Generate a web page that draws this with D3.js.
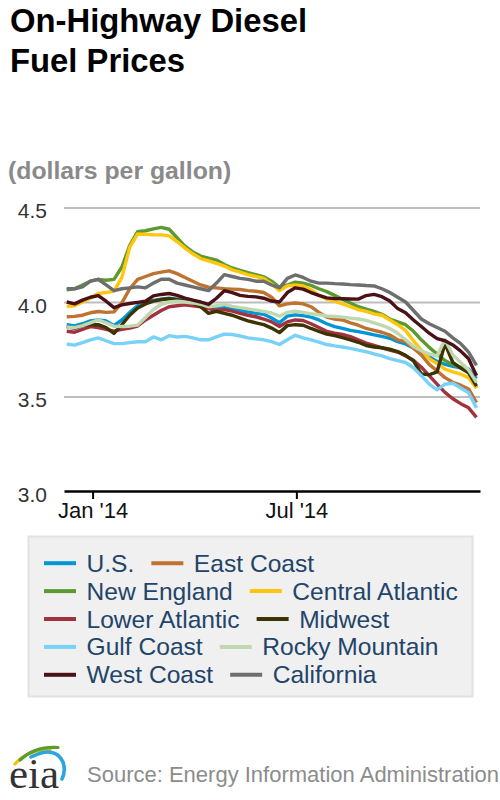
<!DOCTYPE html>
<html><head><meta charset="utf-8">
<script src="https://cdn.jsdelivr.net/npm/d3@7"></script>
<style>body{margin:0;background:#fff} svg{display:block}</style>
</head><body>
<svg id="chart" width="500" height="800"></svg>
<script>
// ---------- DATA ----------
const seriesNames = ["U.S.","East Coast","New England","Central Atlantic","Lower Atlantic","Midwest","Gulf Coast","Rocky Mountain","West Coast","California"];
const seriesColors = ["#0096d6","#bf7330","#5c9a31","#ffc60b","#a2323f","#3d3300","#78d2f8","#bfd8b0","#4a1217","#6e6e6e"];

const usPrices = [3.880,3.874,3.885,3.900,3.905,3.900,3.875,3.905,3.945,3.980, 3.998,4.008,4.015,4.020,4.015,4.005,4.000,3.995,3.980,3.970, 3.970,3.962,3.955,3.948,3.940,3.935,3.915,3.890,3.925,3.932, 3.928,3.920,3.905,3.885,3.870,3.860,3.850,3.843,3.835,3.826, 3.818,3.808,3.790,3.778,3.757,3.735,3.710,3.685,3.670,3.660, 3.652,3.645,3.595];
const eastCoastPrices = [3.922,3.924,3.930,3.943,3.950,3.945,3.948,3.995,4.070,4.120, 4.135,4.150,4.158,4.165,4.150,4.130,4.110,4.090,4.078,4.075, 4.070,4.068,4.066,4.060,4.057,4.050,4.025,3.980,3.990,3.995, 3.990,3.975,3.945,3.920,3.910,3.905,3.890,3.877,3.860,3.850, 3.840,3.825,3.800,3.790,3.755,3.720,3.670,3.635,3.600,3.575, 3.560,3.540,3.468];
const newEnglandPrices = [4.065,4.070,4.090,4.110,4.120,4.115,4.120,4.185,4.300,4.372, 4.377,4.387,4.395,4.385,4.340,4.295,4.265,4.243,4.232,4.222, 4.198,4.180,4.167,4.155,4.145,4.133,4.110,4.078,4.090,4.105, 4.100,4.088,4.070,4.055,4.035,4.015,3.995,3.975,3.962,3.950, 3.935,3.910,3.895,3.880,3.845,3.800,3.760,3.725,3.690,3.668, 3.655,3.630,3.545];
const centralAtlanticPrices = [3.977,3.980,4.000,4.020,4.045,4.050,4.058,4.130,4.290,4.360, 4.358,4.356,4.355,4.350,4.320,4.285,4.255,4.230,4.218,4.205, 4.190,4.170,4.158,4.145,4.135,4.125,4.095,4.060,4.085,4.090, 4.085,4.065,4.035,4.015,4.005,3.990,3.975,3.960,3.950,3.937, 3.930,3.905,3.880,3.850,3.795,3.745,3.700,3.675,3.645,3.630, 3.618,3.600,3.545];
const lowerAtlanticPrices = [3.845,3.840,3.855,3.870,3.865,3.855,3.846,3.855,3.862,3.873, 3.905,3.930,3.955,3.975,3.980,3.985,3.980,3.975,3.965,3.955, 3.960,3.952,3.940,3.930,3.922,3.910,3.895,3.870,3.895,3.905, 3.902,3.885,3.865,3.845,3.835,3.828,3.817,3.800,3.783,3.770, 3.757,3.746,3.735,3.715,3.692,3.655,3.610,3.565,3.522,3.488, 3.462,3.440,3.390];
const midwestPrices = [3.870,3.860,3.875,3.880,3.880,3.865,3.834,3.880,3.930,3.968, 3.990,4.005,4.013,4.017,4.012,4.005,3.995,3.975,3.940,3.950, 3.940,3.930,3.915,3.900,3.890,3.880,3.862,3.838,3.875,3.880, 3.877,3.860,3.845,3.830,3.822,3.812,3.800,3.787,3.770,3.762, 3.758,3.750,3.738,3.718,3.688,3.620,3.615,3.630,3.780,3.680, 3.650,3.625,3.555];
const gulfCoastPrices = [3.778,3.772,3.785,3.800,3.810,3.795,3.780,3.780,3.785,3.790, 3.790,3.815,3.800,3.822,3.815,3.818,3.810,3.800,3.800,3.815, 3.830,3.828,3.820,3.810,3.805,3.800,3.790,3.775,3.800,3.824, 3.810,3.800,3.788,3.775,3.768,3.762,3.755,3.745,3.737,3.725, 3.715,3.700,3.690,3.680,3.652,3.610,3.565,3.535,3.565,3.570, 3.545,3.520,3.440];
const rockyMountainPrices = [3.868,3.864,3.875,3.890,3.905,3.890,3.872,3.870,3.872,3.878, 3.918,3.960,3.988,4.000,4.004,4.000,3.995,3.988,3.975,3.980, 3.987,3.977,3.970,3.964,3.957,3.950,3.942,3.925,3.945,3.952, 3.945,3.938,3.933,3.926,3.923,3.920,3.915,3.910,3.903,3.890, 3.876,3.860,3.835,3.800,3.765,3.742,3.725,3.715,3.800,3.720, 3.680,3.640,3.575];
const westCoastPrices = [4.000,3.990,4.010,4.025,4.034,4.004,3.970,3.985,3.992,3.998, 4.004,4.032,4.040,4.045,4.035,4.020,4.010,4.000,3.987,4.020, 4.060,4.050,4.035,4.030,4.027,4.020,4.005,4.000,4.050,4.075, 4.068,4.050,4.035,4.022,4.018,4.017,4.016,4.015,4.034,4.040, 4.028,4.005,3.965,3.943,3.905,3.870,3.835,3.806,3.795,3.773, 3.740,3.700,3.610];
const californiaPrices = [4.070,4.070,4.080,4.110,4.120,4.090,4.060,4.070,4.075,4.080, 4.075,4.100,4.120,4.120,4.100,4.090,4.080,4.070,4.060,4.100, 4.145,4.135,4.125,4.120,4.110,4.110,4.090,4.075,4.125,4.143, 4.130,4.110,4.100,4.100,4.097,4.095,4.092,4.090,4.087,4.085, 4.070,4.050,4.025,4.000,3.955,3.910,3.885,3.865,3.845,3.810, 3.780,3.735,3.665];

const allSeries = [usPrices,eastCoastPrices,newEnglandPrices,centralAtlanticPrices,lowerAtlanticPrices,midwestPrices,gulfCoastPrices,rockyMountainPrices,westCoastPrices,californiaPrices];

// weekly (Monday) observations, Dec 9 2013 – Dec 8 2014
const weeks = d3.timeMonday.range(new Date(2013, 11, 9), new Date(2014, 11, 9));

const yTickValues = [3.0, 3.5, 4.0, 4.5];
const xTickDates = [new Date(2014, 0, 1), new Date(2014, 6, 1)];
const xTickLabels = ["Jan '14", "Jul '14"];

const titleLines = ["On-Highway Diesel", "Fuel Prices"];
const unitLabel = "(dollars per gallon)";
const sourceLabel = "Source: Energy Information Administration";

// ---------- DRAW ----------
const FONT = "'Liberation Sans', Arial, Helvetica, sans-serif";
const svg = d3.select("#chart");

const x = d3.scaleTime()
  .domain([new Date(2013, 11, 6, 14), new Date(2014, 11, 11, 3)])
  .range([64, 480]);
const y = d3.scaleLinear().domain([3.0, 4.5]).range([491, 207.5]);

// title
svg.append("g").selectAll("text").data(titleLines).join("text")
  .attr("x", 10).attr("y", (d, i) => 32 + i * 39.5)
  .attr("font-family", FONT).attr("font-weight", "bold").attr("font-size", 32.8)
  .attr("fill", "#000").text(d => d);

svg.append("text").attr("x", 8).attr("y", 179)
  .attr("font-family", FONT).attr("font-weight", "bold").attr("font-size", 24.8)
  .attr("fill", "#8a8a8a").text(unitLabel);

// y grid + labels
const yAxis = svg.append("g").attr("transform", "translate(64,0)")
  .call(d3.axisLeft(y).tickValues(yTickValues).tickFormat(d3.format(".1f"))
    .tickSize(-416).tickPadding(17));
yAxis.select(".domain").remove();
yAxis.selectAll(".tick line").attr("stroke", "#bdbdbd").attr("stroke-width", 2)
  .filter(d => d === 3.0).remove();
yAxis.selectAll(".tick text").attr("font-family", FONT).attr("font-size", 21)
  .attr("fill", "#333").attr("dy", "0.48em");

// x axis
const xAxis = svg.append("g").attr("transform", "translate(0,491)")
  .call(d3.axisBottom(x).tickValues(xTickDates)
    .tickFormat((d, i) => xTickLabels[i]).tickSize(8).tickSizeOuter(0).tickPadding(3));
xAxis.select(".domain").attr("stroke", "#000").attr("stroke-width", 2.5);
xAxis.selectAll(".tick line").attr("stroke", "#000").attr("stroke-width", 2);
xAxis.selectAll(".tick text").attr("font-family", FONT).attr("font-size", 22).attr("fill", "#111");

// lines
const line = d3.line().x(d => x(d.date)).y(d => y(d.value));
svg.append("g").selectAll("path")
  .data(allSeries.map((vals, k) => ({ k, pts: vals.map((v, i) => ({ date: weeks[i], value: v })) })))
  .join("path")
  .attr("d", d => line(d.pts))
  .attr("fill", "none")
  .attr("stroke", d => seriesColors[d.k])
  .attr("stroke-width", 3.4)
  .attr("stroke-linejoin", "round");

// legend
const lg = svg.append("g");
lg.append("rect").attr("x", 28.5).attr("y", 536.5).attr("width", 444).attr("height", 160)
  .attr("fill", "#f0f0f0").attr("stroke", "#e2e2e2").attr("stroke-width", 2);
const rowY0 = 571.7, rowStep = 27.9;
for (let r = 0; r < 5; r++) {
  let cx = 44;
  for (let c = 0; c < 2; c++) {
    const k = r * 2 + c;
    const by = rowY0 + r * rowStep;
    lg.append("line").attr("x1", cx).attr("x2", cx + 32).attr("y1", by - 8.5).attr("y2", by - 8.5)
      .attr("stroke", seriesColors[k]).attr("stroke-width", 4);
    const t = lg.append("text").attr("x", cx + 42.5).attr("y", by)
      .attr("font-family", FONT).attr("font-size", 24.6).attr("fill", "#23446a")
      .text(seriesNames[k]);
    cx = cx + 42.5 + t.node().getComputedTextLength() + 17;
  }
}

// footer logo
const logo = svg.append("g");
logo.append("path").attr("d", "M15,764 Q27,750 50,749.5").attr("fill", "none")
  .attr("stroke", "#f5c400").attr("stroke-width", 3.2).attr("stroke-linecap", "round");
logo.append("path").attr("d", "M20,760 Q35,746 58,747.5").attr("fill", "none")
  .attr("stroke", "#5b9c2c").attr("stroke-width", 3.2).attr("stroke-linecap", "round");
logo.append("path").attr("d", "M31,757 Q55,745 63,762 Q66,771 62,779").attr("fill", "none")
  .attr("stroke", "#27a6e0").attr("stroke-width", 3.6).attr("stroke-linecap", "round");
logo.append("text").attr("x", 9).attr("y", 788)
  .attr("font-family", "'Liberation Serif', 'DejaVu Serif', serif").attr("font-size", 43)
  .attr("fill", "#333").text("eia");

svg.append("text").attr("x", 87).attr("y", 782)
  .attr("font-family", FONT).attr("font-size", 22).attr("fill", "#8c8c8c").text(sourceLabel);
</script>
</body></html>
